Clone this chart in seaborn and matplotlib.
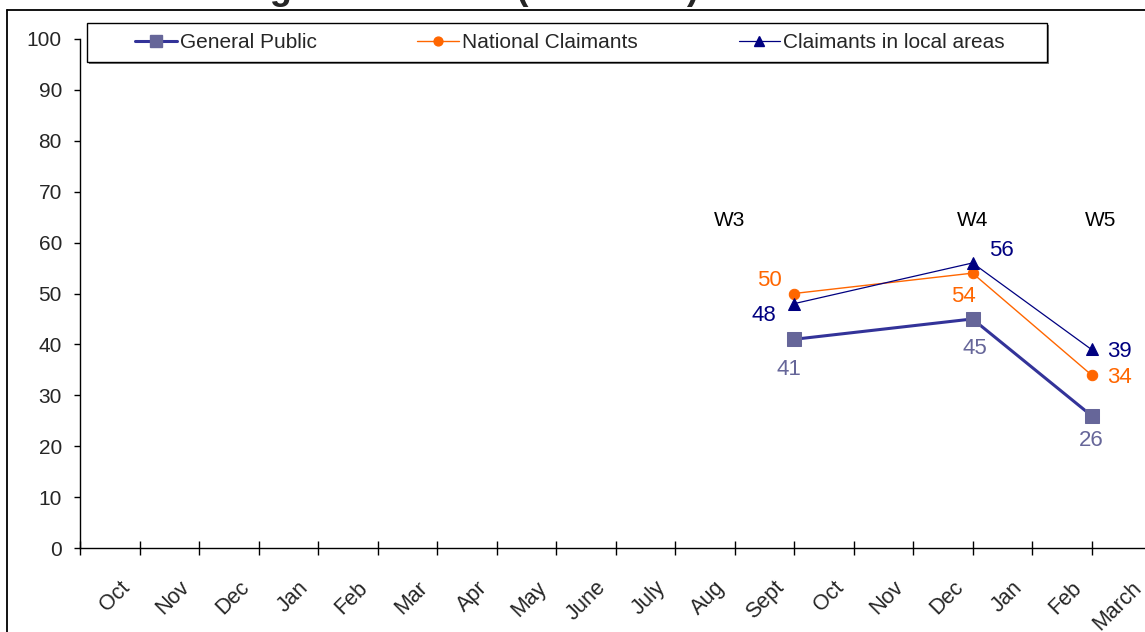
import matplotlib
matplotlib.use("Agg")
import matplotlib.pyplot as plt
import seaborn as sns
import pandas as pd
from matplotlib.lines import Line2D
from matplotlib.patches import Rectangle
from matplotlib.transforms import ScaledTranslation

# ---- data ----
months = ["Oct", "Nov", "Dec", "Jan", "Feb", "Mar", "Apr", "May", "June", "July",
          "Aug", "Sept", "Oct", "Nov", "Dec", "Jan", "Feb", "March"]
waves = ["W3", "W4", "W5"]
# fieldwork position of each wave on the month axis (end of Sept, end of Dec, end of Feb)
wave_pos = [12, 15, 17]
general_public = [41, 45, 26]
national_claimants = [50, 54, 34]
local_claimants = [48, 56, 39]
series_names = ["General Public", "National Claimants", "Claimants in local areas"]
y_ticks = list(range(0, 101, 10))

df = pd.DataFrame({
    "Series": [s for s in series_names for _ in wave_pos],
    "Position": wave_pos * 3,
    "Value": general_public + national_claimants + local_claimants,
})

# ---- styling ----
sns.set_style("white")
plt.rcParams["font.family"] = ["Liberation Sans", "DejaVu Sans"]

styles = {
    "General Public": dict(color="#333399", lw=2.2, marker="s", ms=9.5,
                           mfc="#666699", mec="#666699", label_color="#666699",
                           offsets=[(-5, -30), (2, -30), (0, -25)]),
    "National Claimants": dict(color="#FF6600", lw=1.0, marker="o", ms=7.5,
                               mfc="#FF6600", mec="#FF6600", label_color="#FF6600",
                               offsets=[(-25, 13), (-9, -23), (28, -3)]),
    "Claimants in local areas": dict(color="#000080", lw=0.9, marker="^", ms=8.5,
                                     mfc="#000080", mec="#000080", label_color="#000080",
                                     offsets=[(-30, -12), (29, 12), (28, -2)]),
}

W, H = 1145, 632
fig = plt.figure(figsize=(W / 100, H / 100), dpi=100)
ax = fig.add_axes([80 / W, 1 - 548 / H, 1071 / W, 509 / H])

for name in series_names:
    st = styles[name]
    sub = df[df["Series"] == name]
    sns.lineplot(data=sub, x="Position", y="Value", ax=ax, color=st["color"],
                 lw=st["lw"], marker=st["marker"], markersize=st["ms"],
                 markerfacecolor=st["mfc"], markeredgecolor=st["mec"],
                 legend=False, clip_on=False)
    for (xp, yv, off) in zip(sub["Position"], sub["Value"], st["offsets"]):
        ax.annotate(f"{yv:g}", xy=(xp, yv), xytext=off, textcoords="offset pixels",
                    ha="center", va="center", fontsize=16, color=st["label_color"])

# wave labels
wave_offsets = [(-64, 0), (0, 0), (9, 0)]
for w, xp, off in zip(waves, wave_pos, wave_offsets):
    ax.annotate(w, xy=(xp, 64.4), xytext=off, textcoords="offset pixels",
                ha="center", va="center", fontsize=15, color="black")

# axes
ax.set_xlim(0, len(months))
ax.set_ylim(0, 100)
ax.set_xlabel("")
ax.set_ylabel("")
ax.set_yticks(y_ticks)
ax.set_yticklabels([str(v) for v in y_ticks])
ax.set_xticks(range(len(months) + 1))
ax.set_xticklabels([])
ax.set_xticks([k + 0.5 for k in range(len(months))], minor=True)
ax.set_xticklabels(months, minor=True, rotation=45, ha="right", va="top",
                   rotation_mode="anchor", fontsize=15.5)
ax.tick_params(axis="x", which="major", direction="inout", length=10, width=1,
               color="black", bottom=True)
ax.tick_params(axis="x", which="minor", length=0, pad=21, bottom=True)
ax.tick_params(axis="y", direction="out", length=4, width=1, color="black",
               labelsize=15, pad=9, left=True)
for lab in ax.get_xticklabels(minor=True):
    lab.set_transform(lab.get_transform() + ScaledTranslation(7 / 72, 0, fig.dpi_scale_trans))
for side in ["top", "right"]:
    ax.spines[side].set_visible(False)
for side in ["left", "bottom"]:
    ax.spines[side].set_color("black")
    ax.spines[side].set_linewidth(1)
ax.grid(False)

# legend with box and shadow
handles = [Line2D([], [], color=styles[n]["color"], lw=styles[n]["lw"],
                  marker=styles[n]["marker"], markersize=styles[n]["ms"] * 0.85,
                  markerfacecolor=styles[n]["mfc"], markeredgecolor=styles[n]["mec"])
           for n in series_names]
fig.patches.append(Rectangle((89 / W, 1 - 64 / H), 960 / W, 39 / H,
                             transform=fig.transFigure, facecolor="#777777",
                             edgecolor="none", zorder=1))
fig.patches.append(Rectangle((87 / W, 1 - 62 / H), 960 / W, 39 / H,
                             transform=fig.transFigure, facecolor="white",
                             edgecolor="black", lw=1, zorder=2))
leg = fig.legend(handles, series_names, loc="center left",
                 bbox_to_anchor=(135 / W, 1 - 62 / H, 870 / W, 39 / H),
                 mode="expand", ncol=3, frameon=False, borderaxespad=0, borderpad=0,
                 fontsize=15, handlelength=2.0, handletextpad=0.15)
leg.set_zorder(3)

# outer frame and title
fig.add_artist(Line2D([7 / W, 7 / W], [0, 1 - 10 / H], transform=fig.transFigure,
                      color="black", lw=1.3))
fig.add_artist(Line2D([7 / W, 1], [1 - 10 / H, 1 - 10 / H], transform=fig.transFigure,
                      color="black", lw=1.3))
fig.text(5 / W, 1 + 1 / H, "Chart 10:  Recognition of ads (all waves)",
         fontsize=26, fontweight="bold", va="baseline", ha="left")

fig.savefig("out.png", dpi=100)
